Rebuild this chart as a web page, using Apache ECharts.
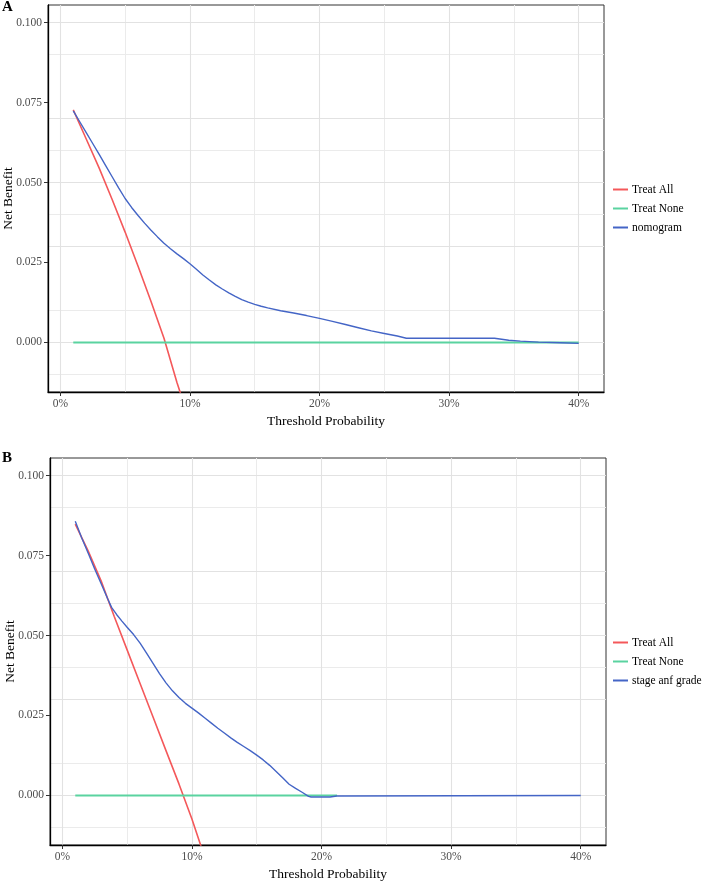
<!DOCTYPE html>
<html><head><meta charset="utf-8">
<script src="https://cdn.jsdelivr.net/npm/echarts@6/dist/echarts.min.js"></script>
<style>html,body{margin:0;padding:0;background:#fff}#c{width:706px;height:881px}</style>
</head><body><div id="c"></div>
<script>
// ---------- data ----------
const xTickValues = [0, 0.1, 0.2, 0.3, 0.4];
const xMinorValues = [0.05, 0.15, 0.25, 0.35];
const yTickValues = [0, 0.025, 0.05, 0.075, 0.1];
const yMinorValues = [-0.0125, 0.0125, 0.0375, 0.0625, 0.0875];

const treatAllA = [[0.01,0.0727],[0.02,0.0636],[0.03,0.0545],[0.04,0.0447],[0.05,0.0345],[0.06,0.0238],[0.07,0.0128],[0.08,0.0013],[0.09,-0.0125],[0.10,-0.0250]];
const treatNoneA = [[0.01,0],[0.40,0]];
const nomogramA = [[0.01,0.0724],[0.015,0.0690],[0.02,0.0656],[0.025,0.0622],[0.03,0.0588],[0.035,0.0553],[0.04,0.0518],[0.045,0.0483],[0.05,0.0450],[0.055,0.0422],[0.06,0.0397],[0.065,0.0373],[0.07,0.0351],[0.075,0.0330],[0.08,0.0310],[0.085,0.0293],[0.09,0.0277],[0.095,0.0262],[0.10,0.0246],[0.105,0.0229],[0.11,0.0211],[0.115,0.0195],[0.12,0.0180],[0.125,0.0167],[0.13,0.0155],[0.135,0.0144],[0.14,0.0134],[0.145,0.0126],[0.15,0.0119],[0.155,0.0113],[0.16,0.0108],[0.17,0.0099],[0.18,0.0092],[0.19,0.0084],[0.20,0.0075],[0.21,0.0066],[0.22,0.0056],[0.23,0.0046],[0.24,0.0036],[0.25,0.0028],[0.26,0.0020],[0.267,0.0013],[0.335,0.0013],[0.336,0.0007],[0.346,0.0007],[0.347,0.0004],[0.355,0.0004],[0.356,0.0001],[0.369,0.0001],[0.37,-0.0001],[0.386,-0.0001],[0.387,-0.0003],[0.40,-0.0003]];

const treatAllB = [[0.01,0.0848],[0.02,0.0764],[0.03,0.0670],[0.04,0.0560],[0.05,0.0455],[0.06,0.0350],[0.07,0.0245],[0.08,0.0140],[0.09,0.0036],[0.10,-0.0074],[0.11,-0.0195]];
const treatNoneB = [[0.01,0],[0.212,0]];
const stageGradeB = [[0.01,0.0857],[0.015,0.0805],[0.02,0.0757],[0.025,0.0708],[0.03,0.0662],[0.035,0.0615],[0.038,0.0588],[0.042,0.0565],[0.046,0.0545],[0.05,0.0526],[0.055,0.0503],[0.06,0.0476],[0.065,0.0445],[0.07,0.0413],[0.075,0.0381],[0.08,0.0352],[0.085,0.0327],[0.09,0.0306],[0.095,0.0288],[0.10,0.0273],[0.105,0.0258],[0.11,0.0242],[0.115,0.0226],[0.12,0.0210],[0.125,0.0195],[0.13,0.0180],[0.135,0.0166],[0.14,0.0153],[0.145,0.0140],[0.15,0.0126],[0.155,0.0111],[0.16,0.0094],[0.165,0.0075],[0.17,0.0055],[0.175,0.0035],[0.18,0.0022],[0.185,0.0010],[0.19,-0.0003],[0.192,-0.0005],[0.2066,-0.0005],[0.2067,-0.0002],[0.2117,-0.0002],[0.212,0],[0.40,0]];

const seriesNamesA = ['Treat All', 'Treat None', 'nomogram'];
const seriesNamesB = ['Treat All', 'Treat None', 'stage anf grade'];

// ---------- styling ----------
const FONT = 'Liberation Serif';
const RED = '#F4585A', GREEN = '#5AD3A0', BLUE = '#4465C6';
const X_MIN = -0.0095, X_MAX = 0.4195, Y_MIN = -0.0155, Y_MAX = 0.1055;

function xAxisFor(i) {
  return {
    type: 'value', gridIndex: i, min: X_MIN, max: X_MAX,
    name: 'Threshold Probability', nameLocation: 'middle', nameGap: 22, nameMoveOverlap: false,
    nameTextStyle: { fontFamily: FONT, fontSize: 13.5, color: '#000' },
    axisLine: { show: true, onZero: false, lineStyle: { color: '#000', width: 1.3 } },
    axisTick: { show: true, length: 4, customValues: xTickValues, lineStyle: { color: '#333' } },
    axisLabel: { customValues: xTickValues, margin: 6, fontFamily: FONT, fontSize: 11.5, color: '#4D4D4D',
      formatter: v => Math.round(v * 100) + '%' },
    splitLine: { show: false }
  };
}
function yAxisFor(i) {
  return {
    type: 'value', gridIndex: i, min: Y_MIN, max: Y_MAX,
    name: 'Net Benefit', nameLocation: 'middle', nameGap: 33, nameRotate: 90, nameMoveOverlap: false,
    nameTextStyle: { fontFamily: FONT, fontSize: 13.5, color: '#000' },
    axisLine: { show: true, onZero: false, lineStyle: { color: '#000', width: 1.3 } },
    axisTick: { show: true, length: 4, customValues: yTickValues, lineStyle: { color: '#333' } },
    axisLabel: { customValues: yTickValues, margin: 6, fontFamily: FONT, fontSize: 11.5, color: '#4D4D4D',
      formatter: v => v.toFixed(3) },
    splitLine: { show: false }
  };
}
function gridSeries(i) {
  const major = { color: '#E2E2E2', width: 1.1, type: 'solid' };
  const minor = { color: '#EBEBEB', width: 1, type: 'solid' };
  const data = [];
  xMinorValues.forEach(v => data.push({ xAxis: v, lineStyle: minor }));
  yMinorValues.forEach(v => data.push({ yAxis: v, lineStyle: minor }));
  xTickValues.forEach(v => data.push({ xAxis: v, lineStyle: major }));
  yTickValues.forEach(v => data.push({ yAxis: v, lineStyle: major }));
  return {
    type: 'line', name: '_grid' + i, xAxisIndex: i, yAxisIndex: i, data: [], z: 0, silent: true,
    markLine: { silent: true, z: 0, symbol: 'none', label: { show: false }, animation: false, data: data }
  };
}
function lineSeries(name, data, color, width, i) {
  return { type: 'line', name: name, data: data, xAxisIndex: i, yAxisIndex: i, showSymbol: false, symbol: 'none',
    lineStyle: { color: color, width: width }, itemStyle: { color: color }, z: 3, clip: true };
}
function legendFor(names, top) {
  return { orient: 'vertical', left: 613, top: top, data: names, icon: 'rect', itemWidth: 15, itemHeight: 2,
    itemGap: 6, selectedMode: false, padding: 0,
    textStyle: { fontFamily: FONT, fontSize: 11.5, color: '#000', lineHeight: 13, padding: [0, 0, 0, -1] } };
}

const chart = echarts.init(document.getElementById('c'), null, { renderer: 'canvas' });
chart.setOption({
  animation: false,
  backgroundColor: '#fff',
  title: [
    { text: 'A', left: 2, top: 0, padding: 0, textStyle: { fontFamily: FONT, fontSize: 15, fontWeight: 'bold', color: '#000' } },
    { text: 'B', left: 2, top: 451, padding: 0, textStyle: { fontFamily: FONT, fontSize: 15, fontWeight: 'bold', color: '#000' } }
  ],
  grid: [
    { left: 48, top: 5, width: 556, height: 387, show: true, borderColor: '#333', borderWidth: 1, backgroundColor: '#fff', containLabel: false, outerBoundsMode: 'none' },
    { left: 50, top: 458, width: 556, height: 387, show: true, borderColor: '#333', borderWidth: 1, backgroundColor: '#fff', containLabel: false, outerBoundsMode: 'none' }
  ],
  xAxis: [xAxisFor(0), xAxisFor(1)],
  yAxis: [yAxisFor(0), yAxisFor(1)],
  legend: [legendFor(seriesNamesA, 183), legendFor(seriesNamesB, 636)],
  series: [
    gridSeries(0), gridSeries(1),
    lineSeries(seriesNamesA[0], treatAllA, RED, 1.6, 0),
    lineSeries(seriesNamesA[1], treatNoneA, GREEN, 2, 0),
    lineSeries(seriesNamesA[2], nomogramA, BLUE, 1.4, 0),
    lineSeries(seriesNamesB[0], treatAllB, RED, 1.6, 1),
    lineSeries(seriesNamesB[1], treatNoneB, GREEN, 2, 1),
    lineSeries(seriesNamesB[2], stageGradeB, BLUE, 1.4, 1)
  ]
});
</script></body></html>
